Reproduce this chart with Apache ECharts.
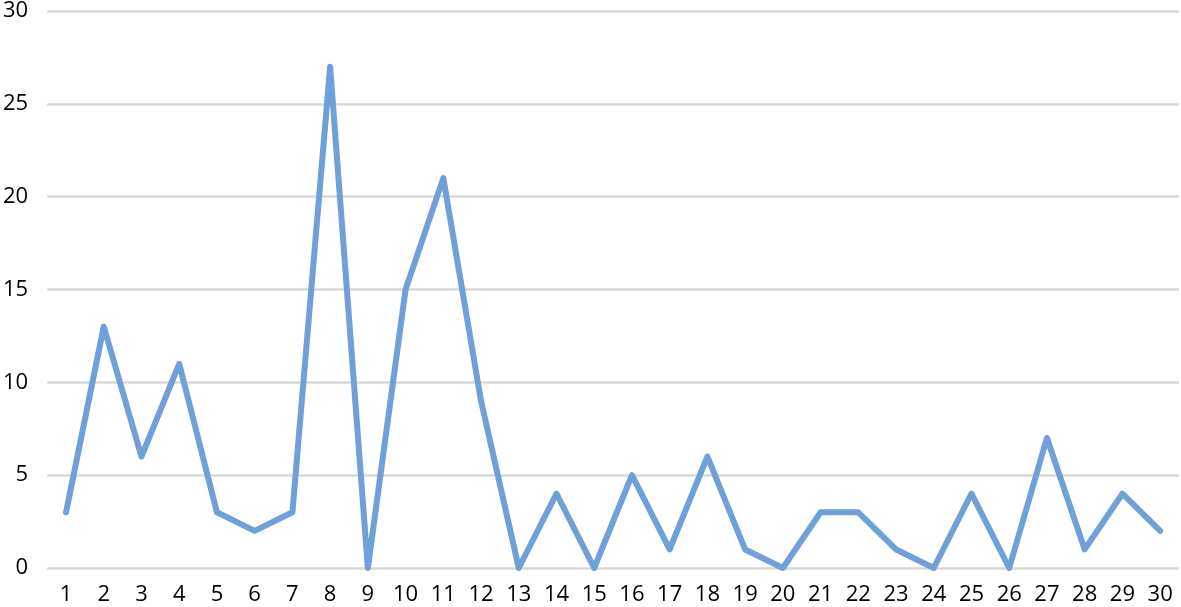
<!DOCTYPE html>
<html>
<head>
<meta charset="utf-8">
<script src="https://cdn.jsdelivr.net/npm/echarts@6/dist/echarts.min.js"></script>
<style>
  html, body { margin: 0; padding: 0; background: #fff; }
  #chart { width: 1181px; height: 607px; }
</style>
</head>
<body>
<div id="chart"></div>
<script>
// categories on x axis
const days = ['1','2','3','4','5','6','7','8','9','10','11','12','13','14','15',
  '16','17','18','19','20','21','22','23','24','25','26','27','28','29','30'];
// values
const counts = [3, 13, 6, 11, 3, 2, 3, 27, 0, 15, 21, 9, 0, 4, 0,
  5, 1, 6, 1, 0, 3, 3, 1, 0, 4, 0, 7, 1, 4, 2];

const chart = echarts.init(document.getElementById('chart'));
chart.setOption({
  animation: false,
  grid: { left: 47, right: 2, top: 10, bottom: 39, containLabel: false },
  xAxis: {
    type: 'category',
    data: days,
    boundaryGap: true,
    axisLine: { show: false },
    axisTick: { show: false },
    axisLabel: {
      color: '#000',
      fontSize: 22,
      fontFamily: 'Open Sans',
      margin: 16,
      interval: 0
    }
  },
  yAxis: {
    type: 'value',
    min: 0,
    max: 30,
    interval: 5,
    axisLine: { show: false },
    axisTick: { show: false },
    axisLabel: {
      color: '#000',
      fontSize: 22,
      fontFamily: 'Open Sans',
      margin: 19
    },
    splitLine: { lineStyle: { color: '#d9d9d9', width: 2.5 } }
  },
  series: [{
    type: 'line',
    data: counts,
    symbol: 'none',
    lineStyle: { color: '#6fa0d8', width: 6, cap: 'round', join: 'round' }
  }]
});
</script>
</body>
</html>
